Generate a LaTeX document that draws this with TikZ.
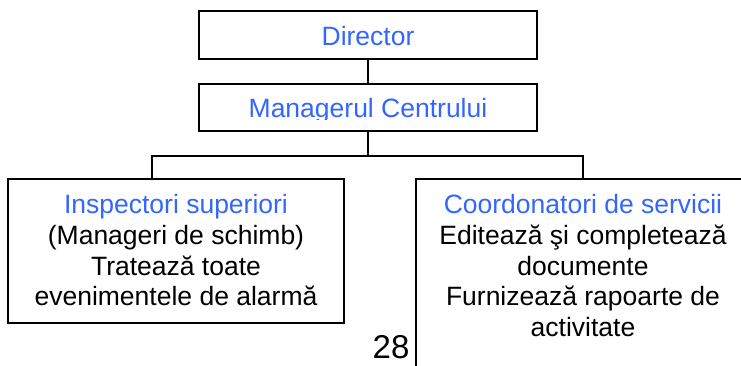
\documentclass[tikz,border=0pt]{standalone}
\usepackage{fontspec}
\setmainfont{Liberation Sans}
\definecolor{tblue}{RGB}{51,102,255}
\newcommand{\tlines}[1]{\begin{tabular}[t]{@{}c@{}}#1\end{tabular}}
\begin{document}
\begin{tikzpicture}[x=1pt,y=-1pt,
  box/.style={draw=black,line width=1.7pt,inner sep=0pt,rectangle},
  conn/.style={draw=black,line width=1.7pt},
  txt/.style={inner sep=0pt,anchor=base,font=\fontsize{26.5}{30.5}\selectfont},
]
\useasboundingbox (0,0) rectangle (741,366);
\clip (0,0) rectangle (741,366);
% boxes
\node[box,minimum width=338pt,minimum height=48pt] (dir) at (368,35) {};
\node[box,minimum width=338pt,minimum height=47pt] (mgr) at (368,107.5) {};
\node[box,minimum width=336pt,minimum height=144pt] (left) at (176,251) {};
\node[box,minimum width=334pt,minimum height=221pt] (right) at (583,289.5) {};
% texts
\node[txt,text=tblue] (tdir) at (368,46) {Director};
\begin{scope}
\clip (199,84) rectangle (537,120);
\node[txt,text=tblue] (tmgr) at (368,118) {Managerul Centrului};
\end{scope}
\node[txt] (tleft) at (176,214) {\tlines{\textcolor{tblue}{Inspectori superiori}\\(Manageri de schimb)\\Tratează toate\\evenimentele de alarmă}};
\node[txt] (tright) at (583,214) {\tlines{\textcolor{tblue}{Coordonatori de servicii}\\Editează şi completează\\documente\\Furnizează rapoarte de\\activitate}};
\node[inner sep=0pt,anchor=base,font=\fontsize{33}{38}\selectfont] (num) at (391,358) {28};
% connectors
\coordinate (busL) at (152,156);
\coordinate (busR) at (583,156);
\draw[conn] (dir.south) -- (mgr.north);
\draw[conn] (mgr.south) -- (mgr.south |- busL);
\draw[conn] (left.north -| busL) -- (busL) -- (busR) -- (right.north);
\end{tikzpicture}
\end{document}
